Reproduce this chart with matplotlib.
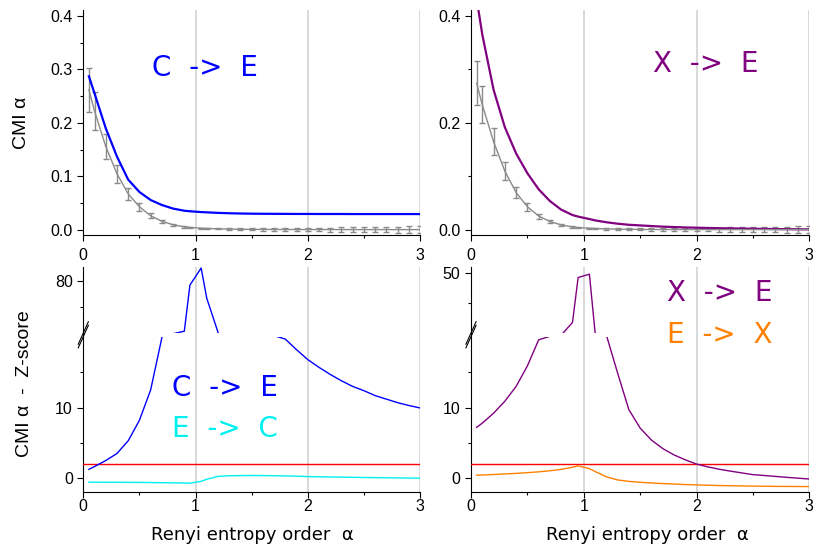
import numpy as np
import matplotlib
matplotlib.use('Agg')
import matplotlib.pyplot as plt
from matplotlib.ticker import FixedLocator, FormatStrFormatter
from matplotlib.lines import Line2D

plt.rcParams['font.family'] = ['Liberation Sans', 'DejaVu Sans']

# Renyi order grid
alpha = [0.05, 0.1, 0.2, 0.3, 0.4, 0.5, 0.6, 0.7, 0.8, 0.9, 0.95, 1.05,
         1.1, 1.2, 1.3, 1.4, 1.5, 1.6, 1.7, 1.8, 1.9, 2.0, 2.1, 2.2, 2.3,
         2.4, 2.5, 2.6, 2.7, 2.8, 2.9, 3.0]

# CMI alpha, C -> E, and surrogate mean / std
cmi_ce = [0.287, 0.255, 0.190, 0.137, 0.094, 0.071, 0.056, 0.0467, 0.040, 0.036,
          0.035, 0.0335, 0.033, 0.032, 0.0313, 0.0308, 0.0305, 0.0303, 0.0302,
          0.0301, 0.0300, 0.0300, 0.0299, 0.0299, 0.0299, 0.0298, 0.0298, 0.0298,
          0.0298, 0.0298, 0.0298, 0.0298]
surr_ce = [0.262, 0.222, 0.156, 0.105, 0.0675, 0.0435, 0.0265, 0.0165, 0.0098, 0.006,
           0.0048, 0.0035, 0.003, 0.0022, 0.0017, 0.0014, 0.0012, 0.0011, 0.001,
           0.001, 0.0009, 0.0009, 0.0009, 0.0009, 0.0008, 0.0008, 0.0008, 0.0008,
           0.0008, 0.0008, 0.0008, 0.0008]
surr_ce_err = [0.041, 0.035, 0.024, 0.017, 0.0115, 0.0075, 0.0045, 0.003, 0.002, 0.0013,
               0.0011, 0.001, 0.001, 0.0012, 0.0014, 0.0016, 0.0018, 0.002, 0.0023,
               0.0026, 0.0029, 0.0032, 0.0035, 0.0038, 0.0041, 0.0044, 0.0047, 0.005,
               0.0053, 0.0056, 0.0059, 0.0062]

# CMI alpha, X -> E, and surrogate mean / std
cmi_xe = [0.432, 0.365, 0.262, 0.192, 0.143, 0.106, 0.076, 0.054, 0.038, 0.028,
          0.025, 0.0205, 0.018, 0.0145, 0.0118, 0.0098, 0.0086, 0.0074, 0.0063,
          0.0055, 0.0048, 0.0043, 0.0038, 0.0034, 0.003, 0.0027, 0.0024, 0.0021,
          0.0018, 0.0016, 0.0014, 0.0012]
surr_xe = [0.274, 0.234, 0.165, 0.110, 0.070, 0.0435, 0.026, 0.016, 0.0095, 0.0058,
           0.0046, 0.0034, 0.0029, 0.0021, 0.0016, 0.0013, 0.0011, 0.001, 0.001,
           0.0009, 0.0009, 0.0009, 0.0008, 0.0008, 0.0008, 0.0008, 0.0008, 0.0008,
           0.0008, 0.0008, 0.0008, 0.0008]
surr_xe_err = [0.041, 0.035, 0.025, 0.0165, 0.011, 0.0075, 0.0045, 0.003, 0.002, 0.0013,
               0.0011, 0.001, 0.001, 0.0012, 0.0014, 0.0016, 0.0018, 0.002, 0.0023,
               0.0026, 0.0029, 0.0032, 0.0035, 0.0038, 0.0041, 0.0044, 0.0047, 0.005,
               0.0053, 0.0056, 0.0059, 0.0062]

# Z-scores
z_ce = [1.25, 1.65, 2.5, 3.5, 5.3, 8.2, 12.5, 19.9, 59.7, 60.7, 78.6, 85.2,
        73.5, 60.3, 48.0, 38.0, 31.0, 26.0, 20.2, 19.7, 18.2, 16.8, 15.7, 14.7,
        13.8, 13.0, 12.4, 11.7, 11.2, 10.7, 10.3, 9.95]
z_ec = [-0.57, -0.57, -0.58, -0.58, -0.59, -0.6, -0.62, -0.64, -0.66, -0.68, -0.71, -0.45,
        -0.15, 0.25, 0.34, 0.37, 0.38, 0.37, 0.35, 0.32, 0.28, 0.23, 0.2, 0.17,
        0.15, 0.12, 0.1, 0.08, 0.06, 0.04, 0.02, 0.0]
z_xe = [7.2, 7.8, 9.2, 10.9, 13.0, 15.9, 19.6, 20.1, 29.3, 33.5, 48.5, 49.6,
        30.3, 20.3, 14.9, 9.7, 7.1, 5.4, 4.2, 3.3, 2.6, 2.0, 1.6, 1.27,
        1.0, 0.75, 0.5, 0.38, 0.25, 0.12, 0.0, -0.12]
z_ex = [0.42, 0.45, 0.52, 0.6, 0.68, 0.78, 0.9, 1.05, 1.25, 1.55, 1.74, 1.35,
        0.95, 0.2, -0.25, -0.45, -0.58, -0.68, -0.76, -0.83, -0.9, -0.95, -1.0, -1.04,
        -1.07, -1.1, -1.12, -1.14, -1.16, -1.17, -1.18, -1.19]
z_thresh = 2.0

W, H = 814, 545
fig = plt.figure(figsize=(W / 100, H / 100), dpi=100)


def px_rect(left, top, right, bottom):
    return [left / W, 1 - bottom / H, (right - left) / W, (bottom - top) / H]


def style_frame(ax):
    for s in ['top', 'right']:
        ax.spines[s].set_visible(False)
    ax.set_xlim(0, 3)
    ax.set_xticks([0, 1, 2, 3])
    ax.xaxis.set_minor_locator(FixedLocator([0.5, 1.5, 2.5]))
    ax.grid(axis='x', which='major', color='#cfcfcf', lw=1.1)
    ax.set_axisbelow(True)
    ax.tick_params(which='major', direction='out', length=4, width=0.8, labelsize=11.5)
    ax.tick_params(which='minor', direction='out', length=2.5, width=0.8)


def label(ax, x, y, s, color):
    ax.text(x, y, s, transform=ax.transAxes, ha='center', va='center',
            fontsize=20, color=color, family='DejaVu Sans')


# top row: CMI alpha against surrogates
tops = [(83.3, 420, cmi_ce, surr_ce, surr_ce_err, '#0000ff', 'C  ->  E', (0.361, 0.742)),
        (471, 809.3, cmi_xe, surr_xe, surr_xe_err, '#800080', 'X  ->  E', (0.695, 0.76))]
for i, (l, r, cmi, surr, err, col, txt, pos) in enumerate(tops):
    ax = fig.add_axes(px_rect(l, 10, r, 235))
    style_frame(ax)
    ax.set_ylim(-0.0093, 0.4107)
    if i == 0:
        ax.set_yticks([0.0, 0.1, 0.2, 0.3, 0.4])
        ax.yaxis.set_minor_locator(FixedLocator([0.05, 0.15, 0.25, 0.35]))
    else:
        ax.set_yticks([0.0, 0.2, 0.4])
        ax.yaxis.set_minor_locator(FixedLocator([0.1, 0.3]))
    ax.yaxis.set_major_formatter(FormatStrFormatter('%.1f'))
    ax.tick_params(axis='x', pad=5)
    ax.errorbar(alpha, surr, yerr=err, color='#8a8a8a', lw=1.0, elinewidth=1.0,
                capsize=2.5, capthick=1.0)
    ax.plot(alpha, cmi, color=col, lw=1.6)
    label(ax, pos[0], pos[1], txt, col)

fig.text(21 / W, 1 - 123 / H, 'CMI α', rotation=90, ha='center', va='center', fontsize=14)

# bottom row: Z-scores on a broken y axis
bots = [(83.3, 420, z_ce, z_ec, '#0000ff', '#00f0f0', 'C  ->  E', 'E  ->  C',
         (0.421, 0.464), (0.421, 0.281), (60, 85.5), [80], [70], 252),
        (471, 809.3, z_xe, z_ex, '#800080', '#ff8000', 'X  ->  E', 'E  ->  X',
         (0.736, 0.886), (0.736, 0.699), (30, 51.9), [50], [40], 647)]
for (l, r, z1, z2, c1, c2, t1, t2, p1, p2, hi_lim, hi_ticks, hi_minor, xl) in bots:
    bg = fig.add_axes(px_rect(l, 267.3, r, 492.3))
    style_frame(bg)
    bg.set_ylim(0, 1)
    bg.set_yticks([])
    bg.tick_params(axis='x', pad=1)
    fig.text(xl / W, 1 - 540 / H, 'Renyi entropy order  α', ha='center', va='baseline',
             fontsize=13, family='DejaVu Sans')

    lo = fig.add_axes(px_rect(l, 337, r, 492.3))
    hi = fig.add_axes(px_rect(l, 267.3, r, 333))
    for a, lim in [(lo, (-2, 20)), (hi, hi_lim)]:
        a.patch.set_visible(False)
        for s in a.spines.values():
            s.set_visible(False)
        a.set_xlim(0, 3)
        a.set_xticks([])
        a.set_ylim(*lim)
        a.tick_params(which='major', direction='out', length=4, width=0.8, labelsize=11.5)
        a.tick_params(which='minor', direction='out', length=2.5, width=0.8)
    lo.set_yticks([0, 10])
    lo.yaxis.set_minor_locator(FixedLocator([5, 15]))
    hi.set_yticks(hi_ticks)
    hi.yaxis.set_minor_locator(FixedLocator(hi_minor))

    lo.axhline(z_thresh, color='#ff0000', lw=1.0)
    for a in (lo, hi):
        a.plot(alpha, z2, color=c2, lw=1.0)
        a.plot(alpha, z1, color=c1, lw=1.0)

    label(bg, p1[0], p1[1], t1, c1)
    label(bg, p2[0], p2[1], t2, c2)

    # break marks on the y axis
    cy = 0.70
    for off in (-0.008, 0.008):
        bg.add_line(Line2D([-0.015, 0.015], [cy - 0.05 + off, cy + 0.05 + off],
                           transform=bg.transAxes, color='k', lw=0.8, clip_on=False))

fig.text(25 / W, 1 - 384 / H, 'CMI α  -  Z-score', rotation=90, ha='center', va='center',
         fontsize=14)

fig.savefig('out.png', dpi=100)
